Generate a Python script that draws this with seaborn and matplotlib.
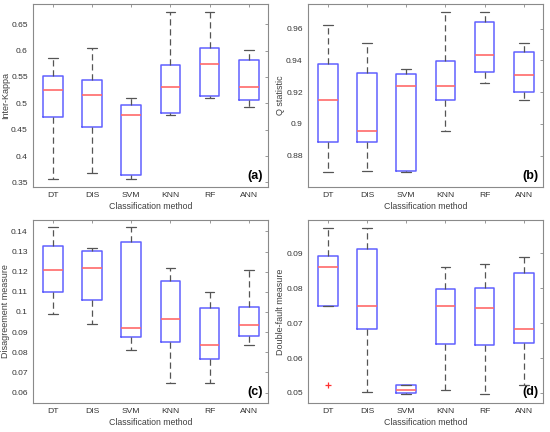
import numpy as np
import pandas as pd
import matplotlib
matplotlib.use("Agg")
import matplotlib.pyplot as plt
import seaborn as sns

# Box statistics (low whisker / outlier, q1, median, q3, high whisker)
methods = ["DT", "DIS", "SVM", "KNN", "RF", "ANN"]

kappa_low = [0.356, 0.3675, 0.356, 0.4785, 0.5095, 0.4924]
kappa_q1 = [0.4734, 0.4552, 0.3644, 0.4817, 0.5139, 0.5069]
kappa_med = [0.5245, 0.5163, 0.4779, 0.5311, 0.5746, 0.5311]
kappa_q3 = [0.5516, 0.5434, 0.4974, 0.5733, 0.6050, 0.5815]
kappa_high = [0.585, 0.6046, 0.510, 0.6727, 0.6727, 0.6019]

q_low = [0.8697, 0.8703, 0.8697, 0.8953, 0.9256, 0.9151]
q_q1 = [0.8888, 0.8888, 0.8703, 0.9153, 0.9327, 0.9201]
q_med = [0.9151, 0.8953, 0.9237, 0.9237, 0.9434, 0.9306]
q_q3 = [0.9380, 0.9321, 0.9317, 0.9398, 0.9642, 0.9451]
q_high = [0.9623, 0.9512, 0.9344, 0.9707, 0.9707, 0.9512]

dis_low = [0.0992, 0.0940, 0.0812, 0.0646, 0.0646, 0.0836]
dis_q1 = [0.1099, 0.1060, 0.0874, 0.0853, 0.0767, 0.0879]
dis_med = [0.1207, 0.1218, 0.0921, 0.0965, 0.0835, 0.0937]
dis_q3 = [0.1329, 0.1304, 0.1345, 0.1154, 0.1018, 0.1025]
dis_high = [0.1420, 0.1319, 0.1420, 0.1218, 0.1100, 0.1207]

df_low = [0.0522, 0.0504, 0.0498, 0.0509, 0.0498, 0.0522]
df_q1 = [0.0750, 0.0682, 0.0501, 0.0640, 0.0637, 0.0643]
df_med = [0.0862, 0.0750, 0.0509, 0.0749, 0.0743, 0.0682]
df_q3 = [0.0893, 0.0911, 0.0522, 0.0798, 0.0800, 0.0843]
df_high = [0.0973, 0.0973, 0.0522, 0.0861, 0.0868, 0.0890]

panels = [
    ("Inter-Kappa", "(a)", [kappa_low, kappa_q1, kappa_med, kappa_q3, kappa_high],
     (0.342, 0.688), np.arange(0.35, 0.651, 0.05)),
    ("Q statistic", "(b)", [q_low, q_q1, q_med, q_q3, q_high],
     (0.8605, 0.9755), np.arange(0.88, 0.961, 0.02)),
    ("Disagreement measure", "(c)", [dis_low, dis_q1, dis_med, dis_q3, dis_high],
     (0.055, 0.1456), np.arange(0.06, 0.1401, 0.01)),
    ("Double-fault measure", "(d)", [df_low, df_q1, df_med, df_q3, df_high],
     (0.0472, 0.0995), np.arange(0.05, 0.0901, 0.01)),
]

sns.set_style("white")
plt.rcParams["font.family"] = ["Liberation Sans", "DejaVu Sans"]

fig = plt.figure(figsize=(5.5, 4.32), dpi=100)
positions = [
    (0.0606, 0.5678), (0.5606, 0.5678),
    (0.0606, 0.0678), (0.5606, 0.0678),
]
w, h = 0.4273, 0.4228

for (ylabel, tag, stats, ylim, yticks), (left, bottom) in zip(panels, positions):
    ax = fig.add_axes([left, bottom, w, h])
    rows = []
    for i, m in enumerate(methods):
        for s in stats:
            rows.append({"method": m, "value": s[i]})
    data = pd.DataFrame(rows)

    # whis slightly above 1.5 so only the DT point in (d) is drawn as an outlier
    sns.boxplot(
        data=data, x="method", y="value", order=methods, ax=ax,
        width=0.5, whis=1.55, fill=False,
        boxprops=dict(color="#6060ff", linewidth=1.1),
        medianprops=dict(color="#ff6a6a", linewidth=1.2),
        whiskerprops=dict(color="#555555", linewidth=0.9, linestyle=(0, (5, 3))),
        capprops=dict(color="#555555", linewidth=0.9),
        flierprops=dict(marker="+", markeredgecolor="#ff3030", markersize=5,
                        markeredgewidth=0.9),
    )

    ax.set_xlim(-0.5, 5.5)
    ax.set_ylim(*ylim)
    ax.set_yticks(yticks)
    ax.set_yticklabels([f"{v:g}" for v in np.round(yticks, 3)])
    ax.set_xlabel("Classification method", fontsize=6.3, color="#404040", labelpad=2)
    ax.set_ylabel(ylabel, fontsize=6.5, color="#404040")
    ax.yaxis.set_label_coords(-0.10, 0.5)
    ax.tick_params(direction="in", top=True, right=True, length=2.5, width=0.6,
                   color="#888888", labelsize=6.1, labelcolor="#333333", pad=4)
    for sp in ax.spines.values():
        sp.set_color("#8a8a8a")
        sp.set_linewidth(0.8)
    ax.text(0.978, 0.06, tag, transform=ax.transAxes, ha="right", va="center",
            fontsize=9, fontweight="bold", color="black")

fig.savefig("out.png", dpi=100)
